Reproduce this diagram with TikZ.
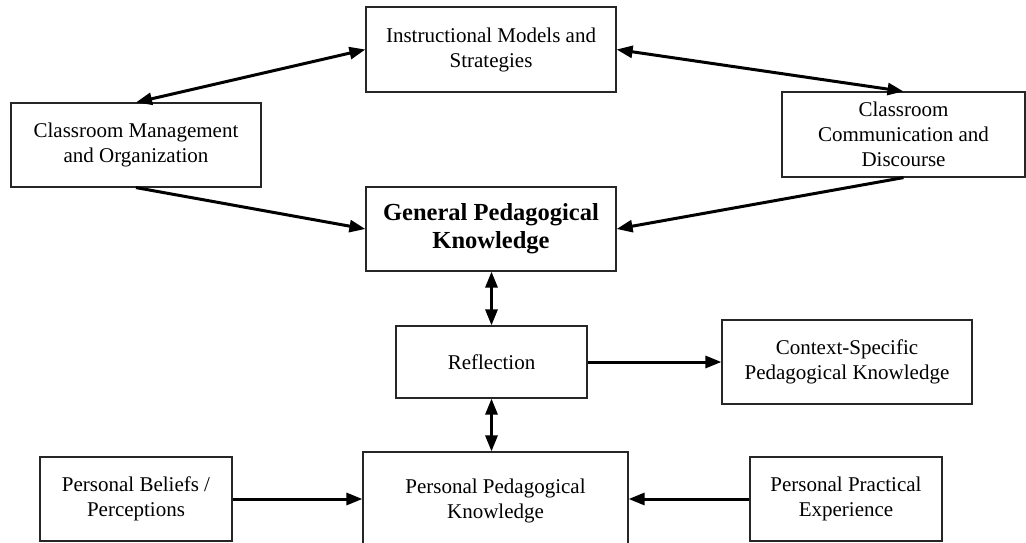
\documentclass[tikz,border=0pt]{standalone}
\usepackage{fontspec}
\setmainfont{Liberation Serif}
\usetikzlibrary{arrows.meta}
\begin{document}
\begin{tikzpicture}[x=1pt,y=-1pt,
  box/.style={draw=black!85, line width=1.2pt, inner sep=0pt, align=center,
    font=\fontsize{21}{25}\selectfont, text=black},
  boldbox/.style={box, font=\fontsize{24.5}{28}\selectfont\bfseries},
  conn/.style={line width=3pt, -{Triangle[length=16pt,width=12pt]}},
  bconn/.style={line width=3pt, {Triangle[length=16pt,width=12pt]}-{Triangle[length=16pt,width=12pt]}}
]
\useasboundingbox (0,0) rectangle (1026,543);
\begin{scope}
\clip (0,0) rectangle (1026,543);
\node[box, minimum width=250pt, minimum height=85pt] (instr) at (491,49.5) {Instructional Models and\\Strategies};
\node[box, minimum width=250pt, minimum height=84pt] (cmo) at (136,145) {Classroom Management\\and Organization};
\node[box, minimum width=243pt, minimum height=85pt] (ccd) at (903.5,134.5) {Classroom\\Communication and\\Discourse};
\node[boldbox, minimum width=250pt, minimum height=84pt] (gpk) at (491,229) {General Pedagogical\\Knowledge};
\node[box, minimum width=191pt, minimum height=72pt] (refl) at (491.5,362) {Reflection};
\node[box, minimum width=250pt, minimum height=84pt] (cspk) at (847,362) {Context-Specific\\Pedagogical Knowledge};
\node[box, minimum width=192pt, minimum height=84pt] (pbp) at (136,499) {Personal Beliefs /\\Perceptions};
\node[box, minimum width=265pt, minimum height=98pt] (ppk) at (495.5,501) {Personal Pedagogical\\Knowledge};
\node[box, minimum width=192pt, minimum height=84pt] (ppe) at (846,499) {Personal Practical\\Experience};

\draw[bconn] (cmo.north) -- (instr.west);
\draw[bconn] (instr.east) -- (ccd.north);
\draw[conn] (cmo.south) -- (gpk.west);
\draw[conn] (ccd.south) -- (gpk.east);
\draw[bconn] (gpk.south -| refl.south) -- (refl.north);
\draw[bconn] (refl.south) -- (refl.south |- ppk.north);
\draw[conn] (refl.east) -- (cspk.west);
\draw[conn] (pbp.east) -- (pbp.east -| ppk.west);
\draw[conn] (ppe.west) -- (ppe.west -| ppk.east);
\end{scope}
\end{tikzpicture}
\end{document}
